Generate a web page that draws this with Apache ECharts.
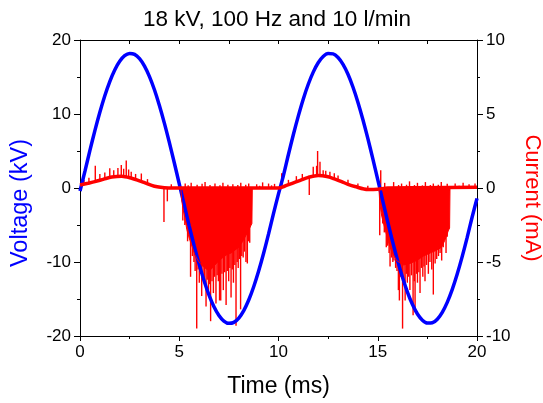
<!DOCTYPE html>
<html>
<head>
<meta charset="utf-8">
<script src="https://cdn.jsdelivr.net/npm/echarts@6/dist/echarts.min.js"></script>
<style>html,body{margin:0;padding:0;background:#fff}#c{width:543px;height:403px}</style>
</head>
<body>
<div id="c"></div>
<script>
// Voltage (kV) read every 0.25 ms: [time ms, kV]
const voltage = [
[0,-0.4],[0.25,2.28],[0.5,5.08],[0.75,7.75],[1,10.23],[1.25,12.46],[1.5,14.38],[1.75,15.95],[2,17.12],[2.25,17.88],[2.5,18.19],[2.75,18.06],[3,17.48],[3.25,16.47],[3.5,15.05],[3.75,13.27],[4,11.15],[4.25,8.77],[4.5,6.16],[4.75,3.41],[5,0.57],
[5.25,-2.29],[5.5,-5.11],[5.75,-7.79],[6,-10.29],[6.25,-12.53],[6.5,-14.46],[6.75,-16.04],[7,-17.22],[7.25,-17.98],[7.5,-18.29],[7.75,-18.16],[8,-17.57],[8.25,-16.56],[8.5,-15.14],[8.75,-13.34],[9,-11.22],[9.25,-8.82],[9.5,-6.2],[9.75,-3.43],[10,-0.8],
[10.25,1.71],[10.5,4.53],[10.75,7.23],[11,9.75],[11.25,12.04],[11.5,14.02],[11.75,15.66],[12,16.92],[12.25,17.76],[12.5,18.16],[12.75,18.12],[13,17.63],[13.25,16.7],[13.5,15.37],[13.75,13.65],[14,11.6],[14.25,9.26],[14.5,6.7],[14.75,3.97],[15,1.14],
[15.25,-1.72],[15.5,-4.55],[15.75,-7.27],[16,-9.81],[16.25,-12.1],[16.5,-14.1],[16.75,-15.75],[17,-17.02],[17.25,-17.86],[17.5,-18.26],[17.75,-18.22],[18,-17.73],[18.25,-16.8],[18.5,-15.45],[18.75,-13.73],[19,-11.66],[19.25,-9.31],[19.5,-6.74],[19.75,-3.99],[20,-1.4]
];
// Current (mA) baseline band centre: [time ms, mA]
const currentBase = [
[0,0.2],[0.4,0.32],[0.75,0.43],[1.2,0.6],[1.6,0.74],[2.1,0.8],[2.6,0.66],[3.0,0.48],[3.25,0.36],[3.75,0.12],[4.25,0.02],[4.75,0],[5.5,0],[10.0,0],[10.3,0.12],[10.66,0.3],[11.1,0.52],[11.5,0.72],[12.0,0.85],[12.5,0.76],[12.85,0.6],[13.18,0.43],[13.5,0.25],[13.85,0.1],[14.5,-0.1],[15.0,-0.08],[15.5,0],[20,0.05]
];
// Discharge envelopes (dense negative current), [time ms, mA]
const discharge1 = [
[5.08,0],[5.12,-0.8],[5.2,-1.5],[5.28,-2.0],[5.38,-2.8],[5.48,-3.3],[5.58,-3.7],[5.68,-4.1],[5.78,-4.5],[5.9,-4.8],[6.05,-5.1],[6.2,-5.3],[6.4,-5.5],[6.6,-5.5],[6.8,-5.2],[7.0,-4.9],[7.2,-4.7],[7.4,-4.5],[7.6,-4.4],[7.8,-4.2],[8.0,-4.0],[8.2,-3.6],[8.4,-3.1],[8.55,-2.7],[8.66,-2.4],[8.68,0]
];
const discharge2 = [
[15.06,0],[15.1,-1.0],[15.2,-1.9],[15.37,-2.8],[15.53,-3.6],[15.7,-4.3],[15.95,-4.9],[16.3,-5.2],[16.62,-5.1],[16.96,-4.9],[17.3,-4.6],[17.63,-4.4],[17.97,-4.2],[18.22,-4.0],[18.39,-3.5],[18.55,-2.9],[18.62,-2.7],[18.64,0]
];
// Individual current spikes: [time ms, from mA, to mA]
const spikes = [
[0.2,0.2,0.55],[0.45,0.3,0.7],[0.77,0.43,1.5],[1.0,0.5,0.95],[1.25,0.6,1.05],[1.5,0.7,1.33],[1.7,0.75,1.2],[1.91,0.8,1.35],[2.08,0.8,1.55],[2.2,0.8,1.3],[2.33,0.78,1.85],[2.45,0.72,1.25],[2.58,0.65,1.1],[2.8,0.55,0.95],[3.09,0.42,0.98],[3.4,0.3,0.6],[4.23,0,-2.3],[4.4,0,-0.9],[4.6,0,0.25],
[5.3,0,0.3],[5.45,0,0.18],[5.6,0,0.35],[5.9,0,0.22],[6.15,0,0.28],[6.3,0,0.4],[6.55,0,0.2],[6.8,0,0.3],[7.05,0,0.18],[7.2,0,0.35],[7.45,0,0.22],[7.7,0,0.26],[7.95,0,0.2],[8.1,0,0.35],[8.35,0,0.22],[8.5,0,0.3],[8.9,0,0.25],[9.05,0,0.15],[9.2,0,0.38],[9.5,0,0.3],[9.65,0,0.18],[9.8,0,0.28],
[5.18,0,-2.2],[5.28,0,-2.5],[5.42,0,-3.6],[5.57,0,-6.0],[5.66,0,-4.6],[5.74,0,-5.0],[5.8,0,-5.6],[5.88,0,-9.5],[5.95,0,-5.5],[6.01,0,-6.4],[6.07,0,-5.8],[6.13,0,-7.3],[6.2,0,-6.0],[6.27,0,-6.3],[6.35,0,-8.0],[6.41,0,-6.2],[6.47,0,-6.9],[6.53,0,-6.5],[6.58,0,-9.0],[6.65,0,-6.3],[6.72,0,-7.1],[6.78,0,-6.0],[6.85,0,-7.8],[6.91,0,-5.9],[6.97,0,-6.3],[7.03,0,-7.6],[7.09,0,-7.6],[7.15,0,-5.8],[7.22,0,-6.9],[7.29,0,-5.7],[7.36,0,-7.9],[7.42,0,-5.6],[7.49,0,-6.3],[7.55,0,-5.4],[7.61,0,-7.4],[7.67,0,-5.5],[7.73,0,-6.4],[7.8,0,-5.2],[7.86,0,-9.3],[7.92,0,-5.0],[7.97,0,-5.4],[8.03,0,-4.8],[8.09,0,-8.2],[8.15,0,-4.6],[8.22,0,-4.7],[8.28,0,-4.3],[8.36,0,-5.0],[8.43,0,-5.1],[8.49,0,-3.6],[8.55,0,-3.7],[8.6,0,-2.0],
[10.16,0.1,1.0],[10.5,0.25,0.55],[10.9,0.4,0.8],[11.2,0.55,0.95],[11.55,0.72,-0.47],[11.75,0.8,1.44],[11.92,0.85,1.5],[11.97,0.85,2.5],[12.09,0.85,1.78],[12.25,0.82,1.2],[12.38,0.8,1.17],[12.59,0.75,1.1],[12.81,0.62,1.0],[13.0,0.5,0.85],[13.5,0.25,0.55],[14.0,0.05,0.3],[14.5,-0.1,0.15],
[15.15,0,1.2],[15.35,0,0.35],[15.8,0,0.4],[16.05,0,0.2],[16.2,0,0.3],[16.45,0,0.22],[16.6,0,0.45],[16.85,0,0.2],[17.0,0,0.35],[17.25,0,0.18],[17.4,0,0.4],[17.65,0,0.2],[17.8,0,0.3],[18.05,0,0.22],[18.2,0,0.4],[18.5,0,0.28],[18.9,0,0.3],[19.1,0,0.15],[19.3,0,0.35],[19.6,0,0.25],[19.9,0,0.3],
[15.1,0,-3.2],[15.25,0,-2.4],[15.33,0,-3.0],[15.43,0,-4.0],[15.5,0,-3.9],[15.57,0,-4.4],[15.62,0,-5.3],[15.7,0,-4.7],[15.76,0,-5.0],[15.82,0,-4.9],[15.9,0,-5.4],[15.97,0,-5.6],[16.04,0,-6.9],[16.09,0,-7.6],[16.15,0,-6.0],[16.21,0,-5.8],[16.25,0,-9.5],[16.32,0,-6.2],[16.38,0,-7.6],[16.44,0,-5.8],[16.49,0,-6.4],[16.56,0,-6.0],[16.62,0,-6.9],[16.7,0,-5.9],[16.78,0,-8.6],[16.84,0,-6.3],[16.88,0,-8.4],[16.95,0,-5.8],[17.0,0,-6.4],[17.07,0,-5.7],[17.13,0,-7.1],[17.2,0,-5.4],[17.27,0,-6.0],[17.33,0,-5.3],[17.38,0,-6.3],[17.46,0,-5.2],[17.55,0,-5.8],[17.63,0,-5.0],[17.72,0,-5.5],[17.8,0,-7.2],[17.89,0,-5.1],[17.97,0,-4.8],[18.06,0,-4.6],[18.14,0,-4.4],[18.22,0,-4.9],[18.3,0,-4.0],[18.44,0,-4.4],[18.5,0,-3.3]
];

const FONT = 'Liberation Sans, Arial, sans-serif';
const BLUE = '#0000ff', RED = '#ff0000';
const axisCommon = {
  axisLine: {show: true, onZero: false, lineStyle: {color: '#000', width: 1}},
  splitLine: {show: false},
  minorSplitLine: {show: false},
  axisLabel: {fontSize: 17, color: '#000', fontFamily: FONT}
};
const chart = echarts.init(document.getElementById('c'), null, {renderer: 'canvas'});
chart.setOption({
  animation: false,
  backgroundColor: '#fff',
  title: {
    text: '18 kV, 100 Hz and 10 l/min',
    left: 272, top: 3, textAlign: 'center',
    textStyle: {fontSize: 22.5, fontWeight: 'normal', color: '#000', fontFamily: FONT}
  },
  grid: {left: 80, right: 66, top: 40, bottom: 67, containLabel: false, outerBoundsMode: 'none'},
  xAxis: [
    Object.assign({}, axisCommon, {
      type: 'value', min: 0, max: 20, interval: 5, position: 'bottom',
      axisTick: {show: true, inside: false, length: 5, lineStyle: {color: '#000'}},
      minorTick: {show: true, splitNumber: 2, length: 3, lineStyle: {color: '#000'}},
      axisLabel: {fontSize: 17, color: '#000', fontFamily: FONT, margin: 8},
      name: 'Time (ms)', nameLocation: 'middle', nameGap: 39,
      nameTextStyle: {fontSize: 23, color: '#000', fontFamily: FONT}
    }),
    Object.assign({}, axisCommon, {
      type: 'value', min: 0, max: 20, interval: 2.5, position: 'top',
      axisTick: {show: true, inside: true, length: 4, lineStyle: {color: '#000'}},
      axisLabel: {show: false}
    })
  ],
  yAxis: [
    Object.assign({}, axisCommon, {
      type: 'value', min: -20, max: 20, interval: 10, position: 'left',
      axisTick: {show: true, inside: false, length: 6, lineStyle: {color: '#000'}},
      minorTick: {show: true, splitNumber: 2, length: 3, lineStyle: {color: '#000'}},
      axisLabel: {fontSize: 17, color: '#000', fontFamily: FONT, margin: 9},
      name: 'Voltage (kV)', nameLocation: 'middle', nameGap: 47, nameRotate: 90,
      nameTextStyle: {fontSize: 23.5, color: BLUE, fontFamily: FONT, padding: [0, 30, 0, 0]}
    }),
    Object.assign({}, axisCommon, {
      type: 'value', min: -10, max: 10, interval: 5, position: 'right',
      axisTick: {show: true, inside: false, length: 6, lineStyle: {color: '#000'}},
      minorTick: {show: true, splitNumber: 2, length: 3, lineStyle: {color: '#000'}},
      axisLabel: {fontSize: 17, color: '#000', fontFamily: FONT, margin: 9},
      name: 'Current (mA)', nameLocation: 'middle', nameGap: 42, nameRotate: -90,
      nameTextStyle: {fontSize: 22, color: RED, fontFamily: FONT, padding: [0, 0, 0, 20]}
    })
  ],
  series: [
    {
      name: 'Voltage', type: 'line', xAxisIndex: 0, yAxisIndex: 0,
      data: voltage, showSymbol: false, symbol: 'none', smooth: 0.3,
      lineStyle: {color: BLUE, width: 3.5}
    },
    {
      name: 'Current', type: 'line', xAxisIndex: 0, yAxisIndex: 1,
      data: currentBase, showSymbol: false, symbol: 'none', smooth: 0.3,
      lineStyle: {color: RED, width: 3.5}
    },
    {
      name: 'Discharge 1', type: 'line', xAxisIndex: 0, yAxisIndex: 1,
      data: discharge1, showSymbol: false, symbol: 'none',
      lineStyle: {color: RED, width: 1}, areaStyle: {color: RED, opacity: 1}
    },
    {
      name: 'Discharge 2', type: 'line', xAxisIndex: 0, yAxisIndex: 1,
      data: discharge2, showSymbol: false, symbol: 'none',
      lineStyle: {color: RED, width: 1}, areaStyle: {color: RED, opacity: 1}
    },
    {
      name: 'Spikes', type: 'custom', xAxisIndex: 0, yAxisIndex: 1,
      data: spikes, encode: {x: 0, y: [1, 2]},
      renderItem: function (params, api) {
        const p1 = api.coord([api.value(0), api.value(1)]);
        const p2 = api.coord([api.value(0), api.value(2)]);
        return {type: 'line', shape: {x1: p1[0], y1: p1[1], x2: p2[0], y2: p2[1]},
                style: {stroke: RED, lineWidth: 1.4}};
      }
    }
  ]
});
</script>
</body>
</html>
